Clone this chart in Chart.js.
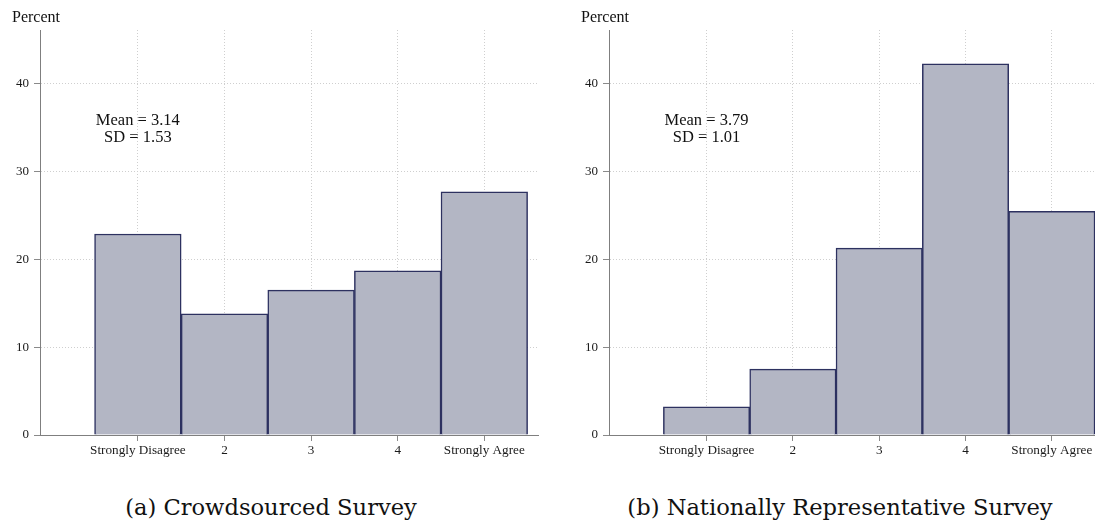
<!DOCTYPE html>
<html lang="en">
<head>
  <meta charset="UTF-8" />
  <title>Survey histograms</title>
  <script src="https://cdn.jsdelivr.net/npm/chart.js"></script>
  <style>
    body { margin: 0; background: #fff; width: 1095px; height: 521px; position: relative; overflow: hidden; }
    canvas { position: absolute; top: 0; }
    .caption { position: absolute; top: 496px; text-align: center; font-family: "DejaVu Serif", serif; font-size: 22.6px; line-height: 22px; color: #111; white-space: nowrap; }
  </style>
</head>
<body>
  <canvas id="crowdChart" width="548" height="470" style="left:0"></canvas>
  <canvas id="nationalChart" width="526" height="470" style="left:569px"></canvas>
  <div class="caption" id="capA" style="left:0; width:542px"></div>
  <div class="caption" id="capB" style="left:580px; width:520px"></div>

  <script>
    const categories = ['Strongly Disagree', '2', '3', '4', 'Strongly Agree'];
    const crowdValues = [22.9, 13.8, 16.5, 18.7, 27.7];
    const nationalValues = [3.2, 7.5, 21.3, 42.3, 25.5];
    const yTicks = [0, 10, 20, 30, 40];
    const crowdStats = ['Mean = 3.14', 'SD = 1.53'];
    const nationalStats = ['Mean = 3.79', 'SD = 1.01'];
    const captions = ['(a) Crowdsourced Survey', '(b) Nationally Representative Survey'];

    const serif = 'Liberation Serif';

    // text inside the plot: "Percent" label and the mean / sd note
    const notePlugin = {
      id: 'note',
      afterDraw(chart, args, opts) {
        const ctx = chart.ctx;
        const { x, y } = chart.scales;
        ctx.save();
        ctx.fillStyle = '#111';
        ctx.font = '16px "' + serif + '"';
        ctx.textBaseline = 'middle';
        ctx.textAlign = 'left';
        ctx.fillText('Percent', chart.chartArea.left - 28, 18);
        ctx.textAlign = 'center';
        ctx.font = '16.5px "' + serif + '"';
        ctx.fillText(opts.lines[0], x.getPixelForValue(1), y.getPixelForValue(35.8));
        ctx.fillText(opts.lines[1], x.getPixelForValue(1), y.getPixelForValue(33.85));
        ctx.restore();
      }
    };

    function drawChart(id, values, stats, xMin, xMax, padRight) {
      const ctx = document.getElementById(id).getContext('2d');
      return new Chart(ctx, {
        type: 'bar',
        data: {
          datasets: [{
            data: values.map((v, i) => ({ x: i + 1, y: v })),
            backgroundColor: '#b3b6c4',
            borderColor: '#2d3160',
            borderWidth: 1.5,
            barPercentage: 1,
            categoryPercentage: 1
          }]
        },
        options: {
          responsive: false,
          animation: false,
          layout: { padding: { top: 30, right: padRight, left: 0, bottom: 0 } },
          plugins: {
            legend: { display: false },
            tooltip: { enabled: false },
            note: { lines: stats }
          },
          scales: {
            x: {
              type: 'linear',
              min: xMin,
              max: xMax,
              offset: false,
              afterBuildTicks: s => { s.ticks = categories.map((c, i) => ({ value: i + 1 })); },
              afterFit: s => { s.height = 35; s.paddingLeft = 0; s.paddingRight = 0; },
              ticks: {
                autoSkip: false,
                maxRotation: 0,
                padding: 2,
                color: '#1a1a1a',
                font: { family: serif, size: 13.2 },
                callback: v => categories[v - 1]
              },
              grid: { offset: false, color: '#cfcfcf', tickColor: '#8a8a8a', tickLength: 6, tickBorderDash: [] },
              border: { color: '#7f7f7f', width: 1, dash: [1, 2] }
            },
            y: {
              min: 0,
              max: 46.15,
              afterBuildTicks: s => { s.ticks = yTicks.map(v => ({ value: v })); },
              afterFit: s => { s.width = 40; s.paddingTop = 0; s.paddingBottom = 0; },
              ticks: {
                padding: 5,
                color: '#1a1a1a',
                font: { family: serif, size: 13 }
              },
              grid: { color: '#cfcfcf', tickColor: '#8a8a8a', tickLength: 6, tickBorderDash: [] },
              border: { color: '#7f7f7f', width: 1, dash: [1, 2] }
            }
          }
        },
        plugins: [notePlugin]
      });
    }

    drawChart('crowdChart', crowdValues, crowdStats, -0.13, 5.62, 10);
    drawChart('nationalChart', nationalValues, nationalStats, -0.13, 5.5, 0);

    document.getElementById('capA').textContent = captions[0];
    document.getElementById('capB').textContent = captions[1];
  </script>
</body>
</html>
